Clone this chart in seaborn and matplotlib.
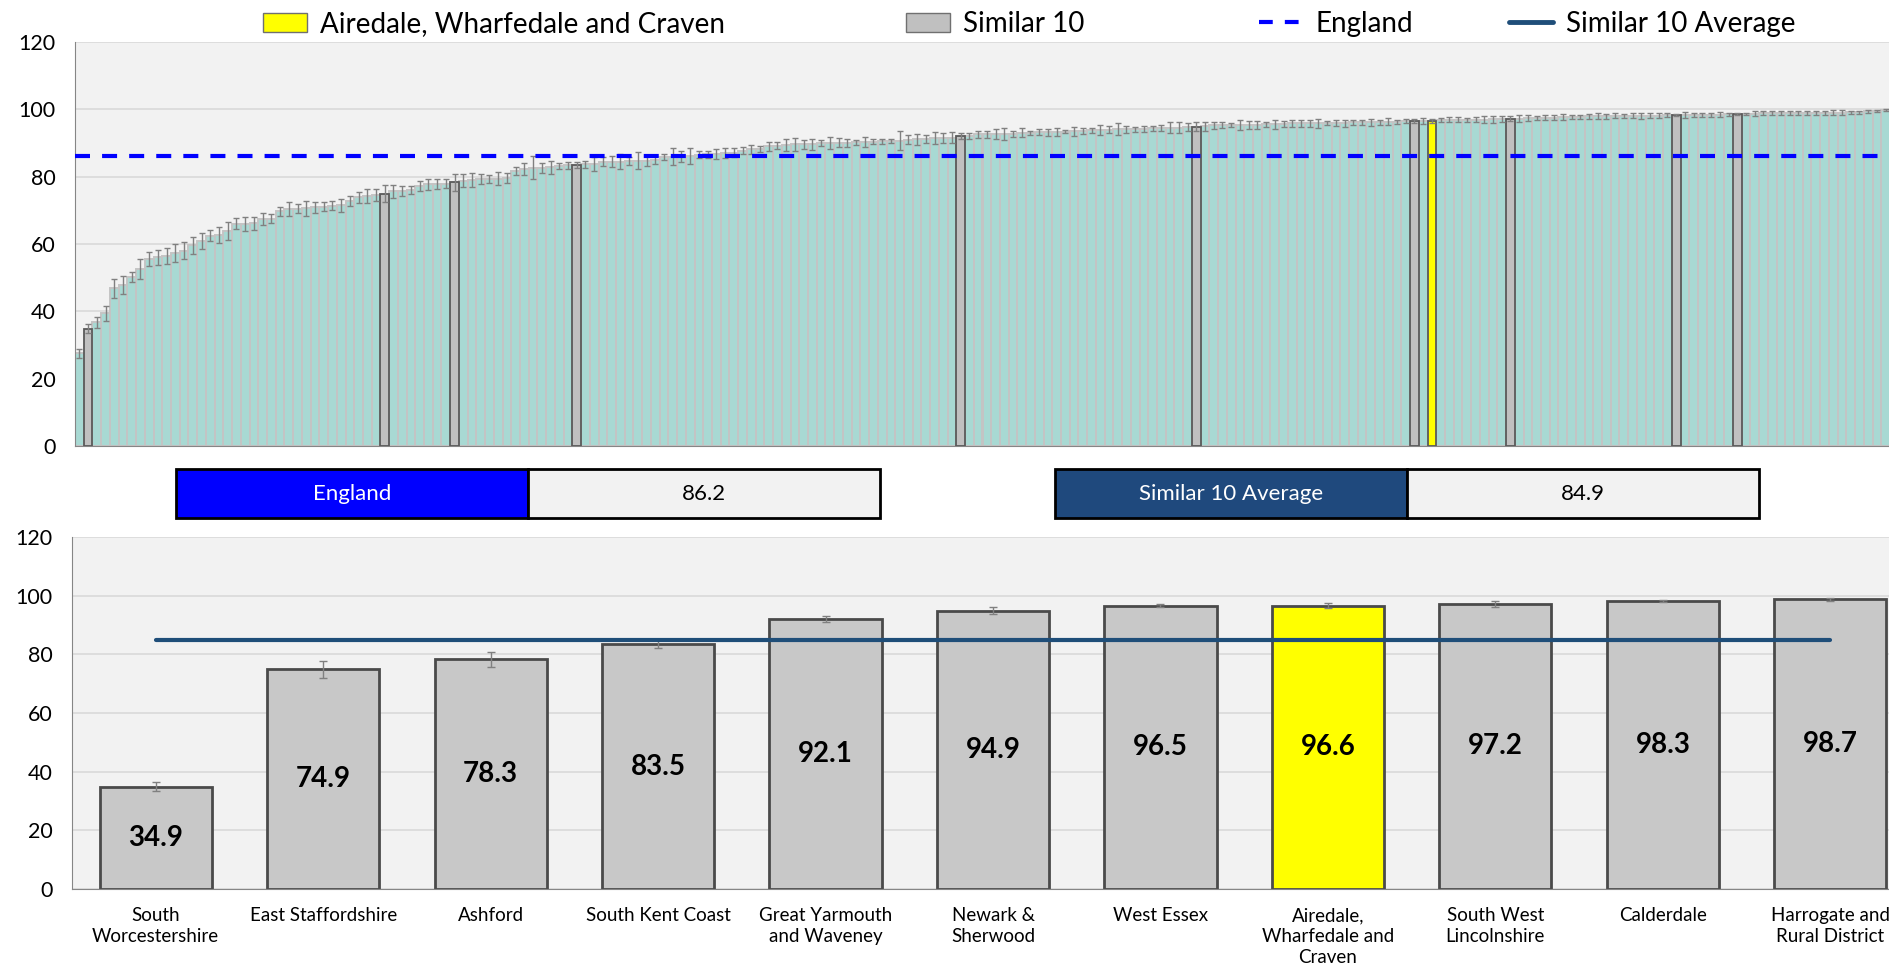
import numpy as np
import pandas as pd
import matplotlib
matplotlib.use("Agg")
import matplotlib.pyplot as plt
from matplotlib.patches import Patch, Rectangle
from matplotlib.lines import Line2D
import seaborn as sns

# all areas, sorted ascending (top chart)
all_values = [
    27.5, 34.9, 36.7, 39.4, 46.8, 47.8, 50.2, 52.6, 55.6, 56.0,
    56.4, 57.4, 58.0, 59.6, 60.9, 62.5, 62.6, 63.8, 66.0, 66.0,
    66.1, 67.4, 67.5, 69.7, 70.4, 70.5, 70.6, 70.9, 71.1, 71.4,
    71.5, 72.8, 73.9, 74.2, 74.6, 74.9, 75.6, 75.8, 76.0, 77.2,
    77.7, 77.8, 77.9, 78.3, 78.8, 78.9, 79.3, 79.3, 79.4, 79.5,
    81.6, 82.4, 82.6, 82.7, 82.8, 83.1, 83.4, 83.5, 83.7, 83.8,
    84.5, 84.5, 84.5, 84.6, 84.7, 84.8, 85.0, 85.9, 85.9, 86.0,
    86.2, 86.5, 86.6, 86.8, 87.0, 87.1, 87.7, 88.1, 88.2, 89.0,
    89.2, 89.5, 89.6, 89.6, 89.6, 90.0, 90.0, 90.1, 90.1, 90.2,
    90.4, 90.4, 90.5, 90.7, 90.7, 91.0, 91.1, 91.3, 91.5, 91.5,
    91.6, 92.1, 92.2, 92.6, 92.6, 92.7, 92.8, 92.8, 93.1, 93.1,
    93.2, 93.2, 93.3, 93.4, 93.5, 93.6, 93.8, 93.9, 94.0, 94.1,
    94.1, 94.1, 94.2, 94.4, 94.4, 94.6, 94.6, 94.8, 94.9, 95.0,
    95.2, 95.4, 95.4, 95.4, 95.4, 95.4, 95.5, 95.5, 95.6, 95.8,
    95.8, 95.8, 95.8, 95.9, 95.9, 95.9, 96.1, 96.1, 96.1, 96.1,
    96.3, 96.3, 96.5, 96.5, 96.6, 96.6, 96.7, 96.9, 96.9, 96.9,
    96.9, 96.9, 97.0, 97.0, 97.2, 97.2, 97.4, 97.4, 97.5, 97.5,
    97.7, 97.7, 97.7, 97.9, 97.9, 97.9, 98.1, 98.1, 98.1, 98.1,
    98.1, 98.1, 98.2, 98.3, 98.3, 98.3, 98.4, 98.4, 98.4, 98.5,
    98.7, 98.7, 98.7, 98.8, 98.8, 98.8, 98.9, 98.9, 98.9, 98.9,
    99.0, 99.0, 99.0, 99.1, 99.1, 99.4, 99.5, 99.9,
]
all_errors = [
    1.3, 1.3, 1.6, 2.2, 2.9, 2.7, 1.6, 3.0, 2.0, 2.3,
    2.4, 2.7, 2.6, 2.6, 2.5, 1.6, 2.4, 2.6, 1.6, 2.0,
    1.8, 1.9, 1.4, 1.4, 2.1, 1.3, 2.3, 1.7, 1.4, 1.4,
    1.9, 1.5, 1.6, 2.1, 1.7, 2.5, 2.0, 1.5, 1.2, 1.6,
    1.7, 1.5, 1.4, 2.5, 2.0, 2.1, 1.5, 1.1, 1.9, 1.5,
    1.2, 1.8, 3.4, 1.5, 1.9, 0.9, 1.0, 1.0, 1.0, 2.0,
    1.3, 1.6, 2.3, 1.2, 2.5, 1.5, 1.2, 0.9, 2.5, 1.5,
    2.3, 1.1, 1.1, 1.5, 1.4, 1.3, 1.0, 1.3, 0.9, 1.3,
    1.1, 1.8, 2.0, 1.3, 1.7, 0.9, 1.7, 1.3, 1.2, 0.7,
    1.5, 0.7, 0.8, 0.6, 2.9, 1.3, 1.7, 1.2, 1.8, 1.6,
    1.7, 0.8, 0.9, 1.1, 1.1, 1.4, 1.8, 0.9, 1.4, 0.6,
    0.9, 1.1, 1.1, 0.5, 1.4, 0.9, 0.7, 1.4, 1.1, 1.7,
    1.0, 0.8, 0.9, 0.7, 0.9, 1.5, 1.7, 1.1, 1.3, 1.3,
    0.9, 0.9, 0.6, 1.5, 1.2, 1.1, 0.8, 1.3, 0.9, 0.9,
    0.9, 1.0, 1.2, 0.6, 0.8, 1.0, 0.8, 0.8, 1.0, 0.8,
    1.0, 0.6, 0.6, 0.5, 0.9, 0.6, 0.6, 0.8, 0.7, 0.6,
    0.8, 1.0, 1.1, 0.9, 0.8, 1.1, 0.9, 0.5, 0.8, 0.8,
    0.8, 0.6, 0.6, 0.7, 0.9, 0.7, 0.7, 0.6, 0.8, 0.9,
    0.8, 0.7, 0.6, 0.3, 0.9, 0.7, 0.6, 0.6, 0.8, 0.5,
    0.3, 0.3, 0.7, 0.6, 0.6, 0.6, 0.5, 0.5, 0.5, 0.5,
    0.6, 0.8, 0.8, 0.5, 0.5, 0.4, 0.3, 0.3,
]
# positions of the similar 10 and the focus area in the ranked list
peer_rank = [1, 35, 43, 57, 101, 128, 153, 164, 183, 190]
focus_rank = 155

# similar 10 + focus (bottom chart)
areas = ["South\nWorcestershire", "East Staffordshire", "Ashford", "South Kent Coast",
         "Great Yarmouth\nand Waveney", "Newark &\nSherwood", "West Essex",
         "Airedale,\nWharfedale and\nCraven", "South West\nLincolnshire", "Calderdale",
         "Harrogate and\nRural District"]
area_values = [34.9, 74.9, 78.3, 83.5, 92.1, 94.9, 96.5, 96.6, 97.2, 98.3, 98.7]
area_errors = [1.6, 2.8, 2.6, 1.3, 1.0, 1.2, 0.5, 0.8, 0.9, 0.3, 0.4]
focus_name = "Airedale, Wharfedale and Craven"

england = 86.2
similar_avg = 84.9

W, H = 1889, 974
sns.set_style("white")
plt.rcParams['font.family'] = ['Lato', 'DejaVu Sans']
plt.rcParams['text.color'] = 'black'
plt.rcParams['xtick.color'] = 'black'
plt.rcParams['ytick.color'] = 'black'

BG = "#F2F2F2"
GRID = "#D9D9D9"
TEAL = "#A8D9D3"
PEER = "#C0C0C0"
YEL = "#FFFF00"
NAVY = "#1F4E79"

fig = plt.figure(figsize=(W / 100, H / 100), dpi=100)

# ---------- top chart: all areas ----------
ax1 = fig.add_axes([75 / W, 1 - 446 / H, (1890 - 75) / W, 404 / H])
grp = ["other"] * len(all_values)
for r in peer_rank:
    grp[r] = "peer"
grp[focus_rank] = "focus"
top = pd.DataFrame({"rank": np.arange(len(all_values)), "value": all_values, "grp": grp})
sns.barplot(data=top, x="rank", y="value", hue="grp", dodge=False, width=1.0,
            palette={"other": TEAL, "peer": PEER, "focus": YEL}, saturation=1,
            legend=False, ax=ax1, errorbar=None)
for bar in ax1.patches:
    fc = matplotlib.colors.to_hex(bar.get_facecolor())
    if fc.lower() == TEAL.lower():
        bar.set_edgecolor("#C4C4C4")
        bar.set_linewidth(1.4)
        bar.set_zorder(2)
    else:
        bar.set_edgecolor("#5A5A5A")
        bar.set_linewidth(1.3)
        bar.set_zorder(3)
ax1.errorbar(top["rank"], top["value"], yerr=all_errors, fmt="none",
             ecolor="#808080", elinewidth=1.0, capsize=2.2, capthick=1.0, zorder=4)
ax1.axhline(england, color="#0000FF", lw=3, linestyle=(0, (3.6, 2.9)), zorder=5)
ax1.set_facecolor(BG)
ax1.set_xlim(-0.5, len(all_values) - 0.5)
ax1.set_ylim(0, 120)
ax1.set_yticks(range(0, 121, 20))
ax1.yaxis.grid(True, color=GRID, lw=1.2)
ax1.set_axisbelow(True)
ax1.set_xticks([])
ax1.set_xlabel("")
ax1.set_ylabel("")
ax1.tick_params(axis="y", labelsize=15.5, length=4, color="#868686", width=1, pad=10)
for s in ["top", "right"]:
    ax1.spines[s].set_visible(False)
for s in ["left", "bottom"]:
    ax1.spines[s].set_color("#868686")

# ---------- legend along the top ----------
handles = [
    (Patch(facecolor=YEL, edgecolor="#707070"), focus_name, 263),
    (Patch(facecolor=PEER, edgecolor="#707070"), "Similar 10", 906),
    (Line2D([], [], color="#0000FF", lw=3, linestyle=(0, (3.3, 2.9))), "England", 1259),
    (Line2D([], [], color=NAVY, lw=3.5), "Similar 10 Average", 1509),
]
for h, lab, x in handles:
    fig.legend([h], [lab], loc="center left", bbox_to_anchor=(x / W, 1 - 24 / H),
               frameon=False, fontsize=20, borderpad=0, borderaxespad=0,
               handlelength=1.6, handletextpad=0.45, handleheight=0.7)

# ---------- summary boxes ----------
def summary_box(x0, label, value, color):
    y0, bh, half = 469, 49, 352
    fig.add_artist(Rectangle((x0 / W, 1 - (y0 + bh) / H), half / W, bh / H,
                             transform=fig.transFigure, facecolor=color,
                             edgecolor="black", lw=2))
    fig.add_artist(Rectangle(((x0 + half) / W, 1 - (y0 + bh) / H), half / W, bh / H,
                             transform=fig.transFigure, facecolor=BG,
                             edgecolor="black", lw=2))
    fig.text((x0 + half / 2) / W, 1 - (y0 + bh / 2) / H, label, color="white",
             fontsize=16, ha="center", va="center")
    fig.text((x0 + 1.5 * half) / W, 1 - (y0 + bh / 2) / H, f"{value:.1f}", color="black",
             fontsize=16, ha="center", va="center")

summary_box(176, "England", england, "#0000FF")
summary_box(1055, "Similar 10 Average", similar_avg, "#1F497D")

# ---------- bottom chart: similar 10 ----------
ax2 = fig.add_axes([72 / W, 1 - 889 / H, 1842 / W, 352 / H])
bot = pd.DataFrame({"area": areas, "value": area_values,
                    "grp": ["focus" if a.replace("\n", " ") == focus_name else "peer" for a in areas]})
sns.barplot(data=bot, x="area", y="value", hue="grp", dodge=False, width=0.67,
            palette={"peer": "#C8C8C8", "focus": YEL}, saturation=1,
            legend=False, ax=ax2, errorbar=None)
for bar in ax2.patches:
    bar.set_edgecolor("#4A4A4A")
    bar.set_linewidth(2.0)
    bar.set_zorder(2)
xs = np.arange(len(areas))
ax2.errorbar(xs, area_values, yerr=area_errors, fmt="none", ecolor="#808080",
             elinewidth=1.0, capsize=3, capthick=1.0, zorder=4)
ax2.plot([xs[0], xs[-1]], [similar_avg, similar_avg], color=NAVY, lw=3, zorder=5)
for x, v in zip(xs, area_values):
    ax2.text(x, v / 2, f"{v:.1f}", ha="center", va="center", fontsize=20,
             fontweight="bold", color="black", zorder=6)
ax2.set_facecolor(BG)
ax2.set_xlim(-0.5, len(areas) - 0.5)
ax2.set_ylim(0, 120)
ax2.set_yticks(range(0, 121, 20))
ax2.yaxis.grid(True, color=GRID, lw=1.2)
ax2.set_axisbelow(True)
ax2.set_xlabel("")
ax2.set_ylabel("")
ax2.set_xticks(np.arange(-0.5, len(areas), 1))
ax2.set_xticklabels([])
ax2.set_xticks(xs, minor=True)
ax2.set_xticklabels(areas, minor=True, fontsize=13.5, linespacing=1.3)
ax2.tick_params(axis="x", which="major", length=7, color="#868686", width=1)
ax2.tick_params(axis="x", which="minor", length=0, pad=13)
ax2.tick_params(axis="y", labelsize=15.5, length=4, color="#868686", width=1, pad=10)
for s in ["top", "right"]:
    ax2.spines[s].set_visible(False)
for s in ["left", "bottom"]:
    ax2.spines[s].set_color("#868686")

fig.savefig("out.png", dpi=100)
